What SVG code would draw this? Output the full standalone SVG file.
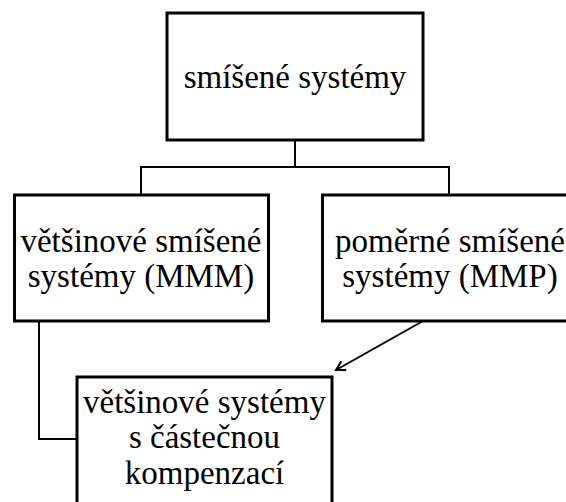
<svg xmlns="http://www.w3.org/2000/svg" width="566" height="502" viewBox="0 0 566 502">
<style>
.box{fill:#fff;stroke:#000;stroke-width:3}
.t{font-family:"Liberation Serif","Times New Roman",serif;font-size:33px;fill:#000;text-anchor:middle}
.c{fill:none;stroke:#000;stroke-width:2}
</style>
<defs>
<marker id="arr" markerWidth="12" markerHeight="12" refX="10" refY="6" orient="auto" markerUnits="userSpaceOnUse">
<path d="M1,1 L10,6 L1,11" fill="none" stroke="#000" stroke-width="2"/>
</marker>
</defs>
<rect width="566" height="502" fill="#fff"/>
<g id="connectors">
<path class="c" d="M295,140 V167 M141,195 V167 H449 V195"/>
<path class="c" d="M39,321 V439 H77"/>
<line class="c" x1="423" y1="321" x2="336" y2="370" marker-end="url(#arr)"/>
</g>
<g id="n-top">
<rect class="box" x="167" y="13" width="256" height="127"/>
<text class="t" x="295" y="88">smíšené systémy</text>
</g>
<g id="n-mmm">
<rect class="box" x="14.5" y="195" width="254" height="126"/>
<text class="t" x="141" y="252">většinové smíšené</text>
<text class="t" x="141" y="287">systémy (MMM)</text>
</g>
<g id="n-mmp">
<rect class="box" x="322.5" y="195" width="260" height="126"/>
<text class="t" x="450" y="252">poměrné smíšené</text>
<text class="t" x="450" y="287">systémy (MMP)</text>
</g>
<g id="n-comp">
<rect class="box" x="77" y="377" width="255" height="135"/>
<text class="t" x="204.5" y="413">většinové systémy</text>
<text class="t" x="204.5" y="448">s částečnou</text>
<text class="t" x="204.5" y="484">kompenzací</text>
</g>
</svg>
